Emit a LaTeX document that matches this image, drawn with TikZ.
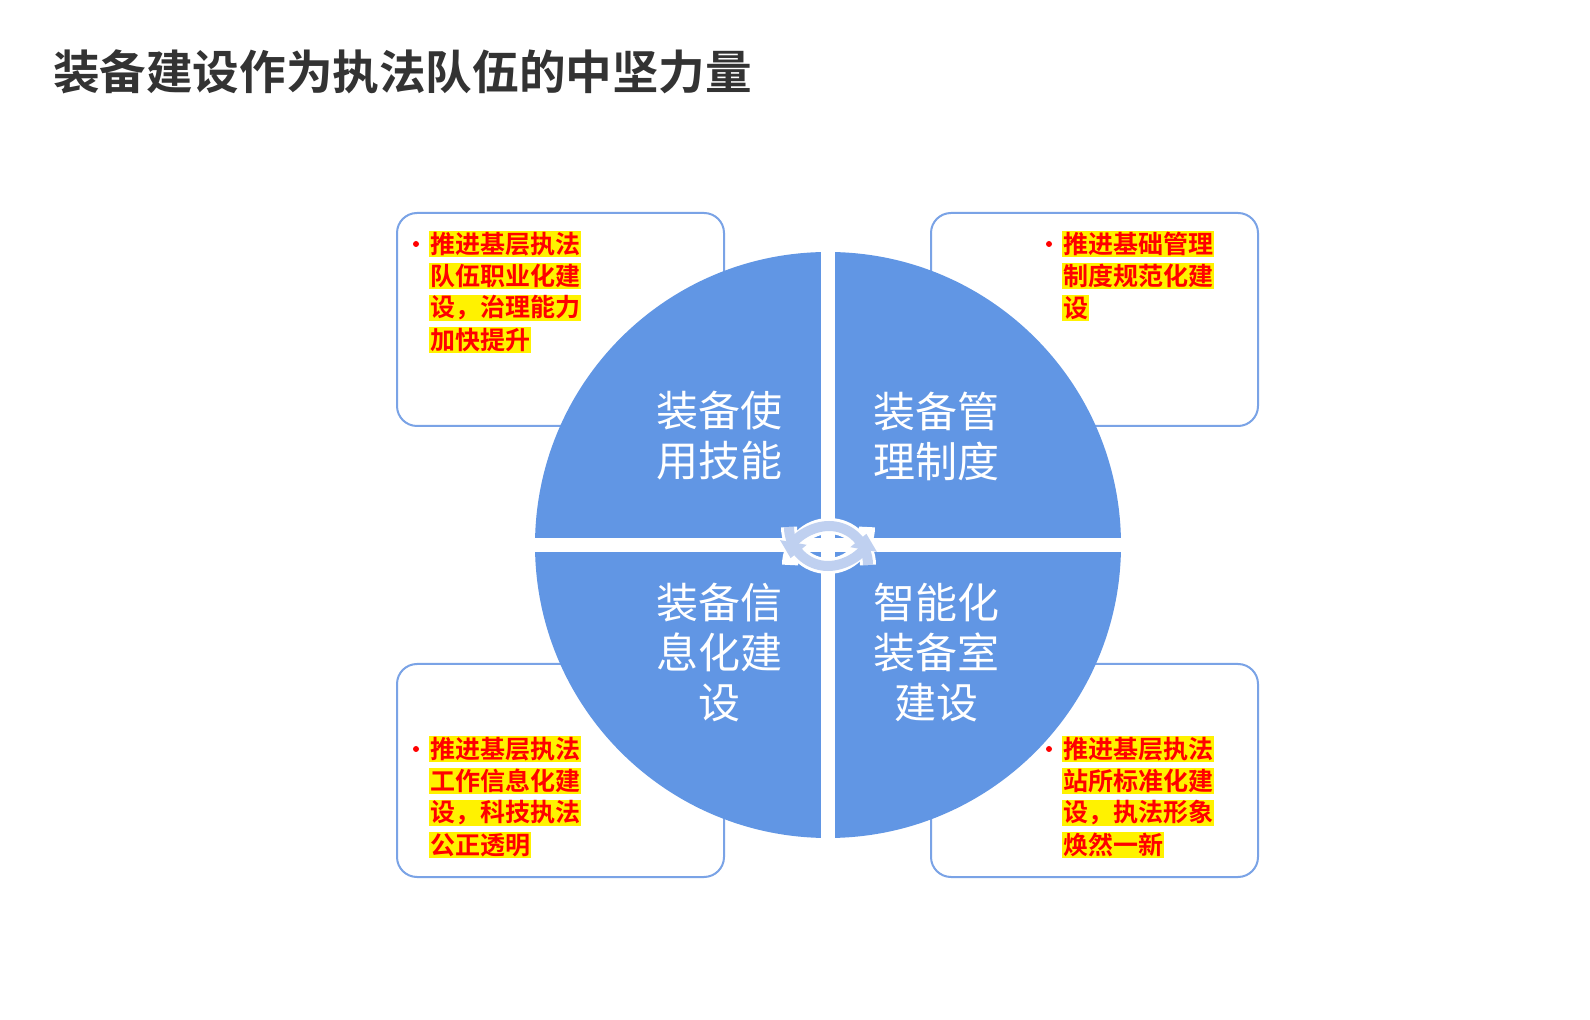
\documentclass[tikz,border=0pt]{standalone}
\usepackage{fontspec}
\newfontfamily\cjk{Noto Sans CJK SC}[BoldFont={Noto Sans CJK SC Bold}]
\usetikzlibrary{arrows.meta}
\definecolor{pie}{HTML}{6196E4}
\definecolor{frame}{HTML}{7AA3E6}
\definecolor{arr}{HTML}{BFD0F0}
\definecolor{titlec}{HTML}{333333}
\tikzset{
 box/.style={draw=frame,line width=1pt,rounded corners=10pt,fill=white},
 hl/.style={fill=yellow,text=red,inner sep=0.5pt,anchor=west,font=\cjk\bfseries\fontsize{12.5}{13}\selectfont},
 dot/.style={circle,fill=red,inner sep=0pt,minimum size=3pt},
 pt/.style={text=white,align=center,font=\cjk\fontsize{21}{25}\selectfont},
 cyc/.style={draw=arr,line width=5pt,-{Triangle[length=8pt,width=13pt]}}
}
\begin{document}
\begin{tikzpicture}[x=0.5pt,y=-0.5pt]
\useasboundingbox (0,0) rectangle (1590,1020);
\fill[white] (0,0) rectangle (1590,1020);
\node[anchor=west,text=titlec,font=\cjk\bfseries\fontsize{23.3}{26}\selectfont] (title) at (46,72) {装备建设作为执法队伍的中坚力量};
% boxes
\draw[box] (397,213) rectangle (724,426);
\draw[box] (931,213) rectangle (1258,426);
\draw[box] (397,664) rectangle (724,877);
\draw[box] (931,664) rectangle (1258,877);
% circle
\fill[pie] (828,545) circle (293);
\fill[white] (821,240) rectangle (835,850);
\fill[white] (520,538) rectangle (1135,552);
% circle labels
\node[pt] (q1) at (719,436) {装备使\\用技能};
\node[pt] (q2) at (936,436) {装备管\\理制度};
\node[pt] (q3) at (719,653) {装备信\\息化建\\设};
\node[pt] (q4) at (936,653) {智能化\\装备室\\建设};
% cycle arrows
\draw[white,line width=8pt] (789,527) arc (180:0:39);
\draw[white,line width=8pt] (868,565) arc (0:-180:39);
\draw[cyc] (789,527) arc (180:10:39);
\draw[cyc] (868,565) arc (0:-170:39);
% box texts
\node[dot] (d1) at (416,244) {};
\node[hl] (a1) at (429,244) {推进基层执法};
\node[hl] (a2) at (429,276) {队伍职业化建};
\node[hl] (a3) at (429,308) {设，治理能力};
\node[hl] (a4) at (429,340) {加快提升};
\node[dot] (d2) at (1049,244) {};
\node[hl] (b1) at (1062,244) {推进基础管理};
\node[hl] (b2) at (1062,276) {制度规范化建};
\node[hl] (b3) at (1062,308) {设};
\node[dot] (d3) at (416,749) {};
\node[hl] (c1) at (429,749) {推进基层执法};
\node[hl] (c2) at (429,781) {工作信息化建};
\node[hl] (c3) at (429,813) {设，科技执法};
\node[hl] (c4) at (429,845) {公正透明};
\node[dot] (d4) at (1049,749) {};
\node[hl] (e1) at (1062,749) {推进基层执法};
\node[hl] (e2) at (1062,781) {站所标准化建};
\node[hl] (e3) at (1062,813) {设，执法形象};
\node[hl] (e4) at (1062,845) {焕然一新};
\end{tikzpicture}
\end{document}
